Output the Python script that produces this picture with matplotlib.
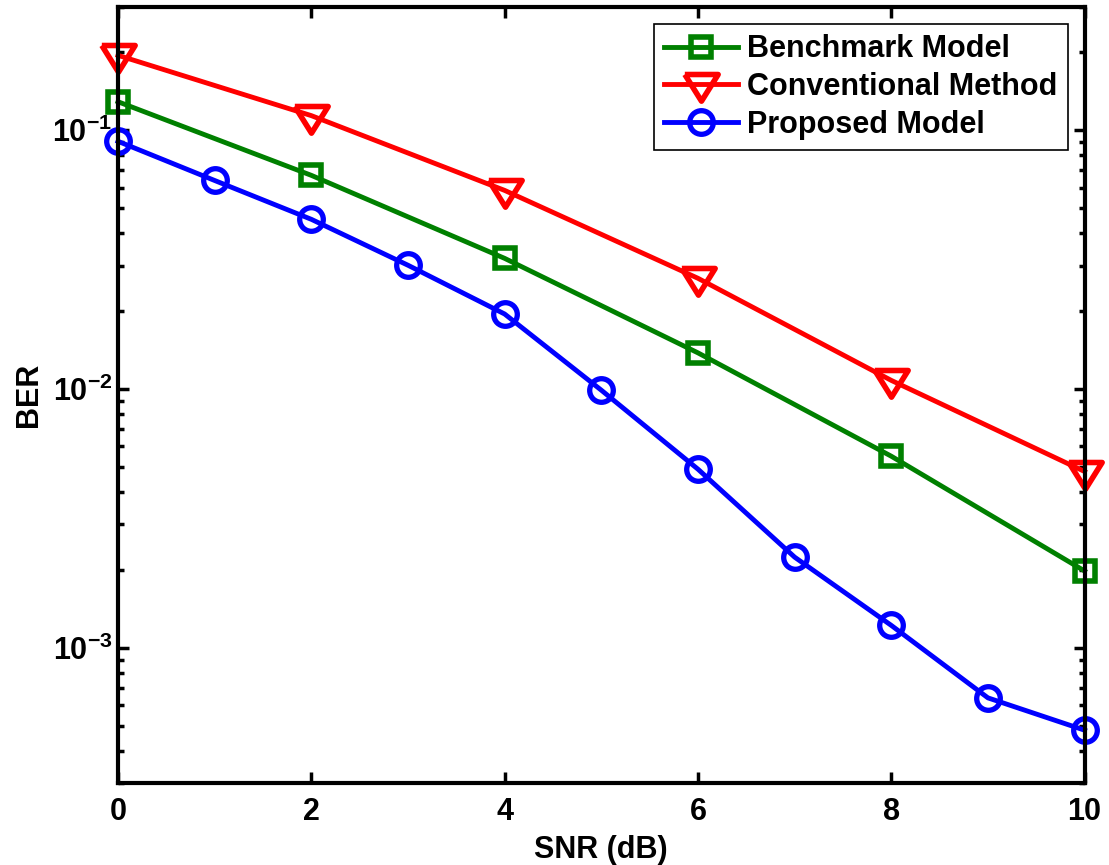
import numpy as np
from matplotlib import pyplot as plt
from matplotlib.ticker import LogLocator, NullFormatter

plt.rcParams['font.family'] = ['Liberation Sans', 'DejaVu Sans']
plt.rcParams['font.weight'] = 'bold'
plt.rcParams['mathtext.fontset'] = 'custom'
plt.rcParams['mathtext.rm'] = 'Liberation Sans:bold'
plt.rcParams['mathtext.bf'] = 'Liberation Sans:bold'
plt.rcParams['mathtext.default'] = 'bf'

# data
snr_bench = [0, 2, 4, 6, 8, 10]
ber_bench = [0.129, 0.067, 0.032, 0.0138, 0.0055, 0.00198]

snr_conv = [0, 2, 4, 6, 8, 10]
ber_conv = [0.195, 0.114, 0.0586, 0.0268, 0.0108, 0.0048]

snr_prop = [0, 1, 2, 3, 4, 5, 6, 7, 8, 9, 10]
ber_prop = [0.0907, 0.064, 0.0453, 0.0301, 0.0195, 0.0099, 0.0049,
            0.00224, 0.00122, 0.00064, 0.00048]

# wide matlab-like downward triangle
tri_down = [(-1, 0.6), (1, 0.6), (0, -1), (-1, 0.6)]

fig = plt.figure(figsize=(11.09, 8.65), dpi=100)
ax = fig.add_axes([0.1064, 0.0948, 0.8716, 0.8972])

ax.semilogy(snr_bench, ber_bench, '-s', color=(0, 0.5, 0), lw=3.5,
            ms=15, mfc='none', mew=4, label='Benchmark Model', clip_on=False)
ax.semilogy(snr_conv, ber_conv, '-', marker=tri_down, color='red', lw=3.5,
            ms=24, mfc='none', mew=4, label='Conventional Method', clip_on=False)
ax.semilogy(snr_prop, ber_prop, '-o', color='blue', lw=3.5,
            ms=17, mfc='none', mew=3.8, label='Proposed Model', clip_on=False)

ax.set_xlim(0, 10)
ax.set_ylim(3e-4, 0.3)
ax.set_xticks([0, 2, 4, 6, 8, 10])
ax.yaxis.set_major_locator(LogLocator(base=10, numticks=10))
ax.yaxis.set_minor_locator(LogLocator(base=10, subs=np.arange(2, 10), numticks=20))
ax.yaxis.set_minor_formatter(NullFormatter())

for s in ax.spines.values():
    s.set_linewidth(3)
ax.tick_params(which='both', direction='in', top=True, right=True,
               labelsize=22, width=2.5)
ax.tick_params(which='major', length=8)
ax.tick_params(which='minor', length=4)
ax.tick_params(axis='x', which='major', pad=10)
ax.tick_params(axis='y', which='major', pad=4)

ax.set_xlabel('SNR (dB)', fontsize=22, fontweight='bold', labelpad=6)
ax.set_ylabel('BER', fontsize=22, fontweight='bold', labelpad=6)

leg = ax.legend(loc='upper right', fontsize=22, fancybox=False,
                edgecolor='black', framealpha=1, handlelength=2.4,
                handletextpad=0.3, borderaxespad=0.55, labelspacing=0.25,
                borderpad=0.35)
leg.get_frame().set_linewidth(1.2)
for t in leg.get_texts():
    t.set_fontweight('bold')

fig.savefig('out.png', dpi=100)
